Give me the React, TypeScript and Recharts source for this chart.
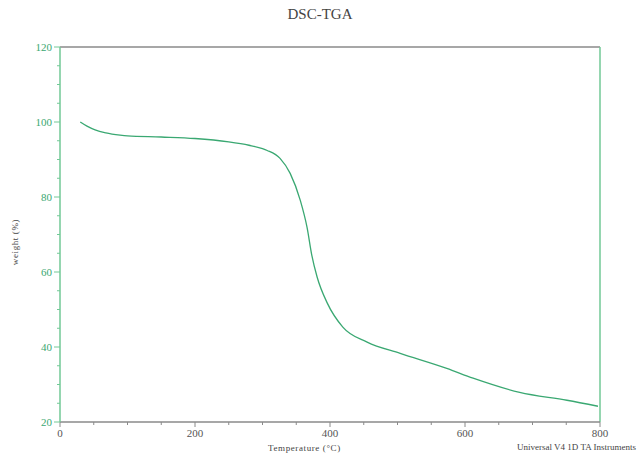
import React from "react";
import { LineChart, Line, XAxis, YAxis, ReferenceLine } from "recharts";

const temperature = [30, 40, 52, 68, 89, 100, 150, 200, 250, 280, 300, 307, 326, 341, 356, 366, 373, 381, 396, 419, 455, 504, 573, 612, 681, 751, 797];
const weight = [100, 98.9, 97.9, 97.1, 96.5, 96.3, 96.0, 95.6, 94.7, 93.8, 92.9, 92.4, 90.3, 86.3, 79.1, 71.9, 64.5, 58.6, 51.7, 45.3, 41.3, 38.3, 34.3, 31.7, 27.9, 25.8, 24.2];
const xMajorTicks = [0, 200, 400, 600, 800];
const xAllTicks = [0, 50, 100, 150, 200, 250, 300, 350, 400, 450, 500, 550, 600, 650, 700, 750, 800];
const yMajorTicks = [20, 40, 60, 80, 100, 120];
const yAllTicks = [20, 25, 30, 35, 40, 45, 50, 55, 60, 65, 70, 75, 80, 85, 90, 95, 100, 105, 110, 115, 120];

const data = temperature.map((t, i) => ({ t, w: weight[i] }));

const GREEN = "#3aa872";
const AXIS_GREEN = "#72c996";
const GRAY = "#8a8a8a";
const TEXT = "#444";
const SERIF = "'Liberation Serif', 'DejaVu Serif', serif";
const TICK_SIZE = 6;
const TICK_MARGIN = 2;

function XTick(props: any) {
  const { x, y, payload } = props;
  const v = payload.value;
  const major = xMajorTicks.includes(v);
  const axisY = y - TICK_SIZE - TICK_MARGIN;
  const len = major ? 5 : 3;
  return (
    <g>
      <line x1={x} x2={x} y1={axisY} y2={axisY + len} stroke={GRAY} strokeWidth={1} />
      {major && (
        <text x={x} y={axisY + 7} dy="0.71em" textAnchor="middle" fill="#555" fontSize={11} fontFamily={SERIF}>
          {v}
        </text>
      )}
    </g>
  );
}

function YTick(props: any) {
  const { x, y, payload } = props;
  const v = payload.value;
  const major = yMajorTicks.includes(v);
  const axisX = x + TICK_SIZE + TICK_MARGIN;
  const len = major ? 6 : 3;
  return (
    <g>
      <line x1={axisX - len} x2={axisX} y1={y} y2={y} stroke={AXIS_GREEN} strokeWidth={1} />
      {major && (
        <text x={axisX - 8} y={y} dy="0.355em" textAnchor="end" fill={GREEN} fontSize={11} fontFamily={SERIF}>
          {v}
        </text>
      )}
    </g>
  );
}

export default function App() {
  return (
    <div style={{ position: "absolute", left: 0, top: 0, width: 640, height: 455, background: "#fff", overflow: "hidden" }}>
      <LineChart width={640} height={455} data={data} margin={{ top: 47, right: 40, left: 0, bottom: 0 }}>
        <XAxis
          dataKey="t"
          type="number"
          domain={[0, 800]}
          ticks={xAllTicks}
          interval={0}
          tickSize={TICK_SIZE}
          tickMargin={TICK_MARGIN}
          tickLine={false}
          axisLine={{ stroke: GRAY, strokeWidth: 1.5 }}
          tick={<XTick />}
          height={33}
        />
        <YAxis
          type="number"
          domain={[20, 120]}
          ticks={yAllTicks}
          interval={0}
          tickSize={TICK_SIZE}
          tickMargin={TICK_MARGIN}
          tickLine={false}
          axisLine={{ stroke: AXIS_GREEN, strokeWidth: 1.5 }}
          tick={<YTick />}
          width={60}
        />
        <ReferenceLine y={120} stroke={GRAY} strokeWidth={1.5} />
        <ReferenceLine x={800} stroke={AXIS_GREEN} strokeWidth={1.5} />
        <Line
          type="monotone"
          dataKey="w"
          stroke={GREEN}
          strokeWidth={1.3}
          dot={false}
          isAnimationActive={false}
        />
      </LineChart>
      <div style={{ position: "absolute", left: 0, width: 640, top: 6, textAlign: "center", fontFamily: SERIF, fontSize: 15, color: TEXT }}>
        DSC-TGA
      </div>
      <div style={{ position: "absolute", left: 268, top: 443, fontFamily: SERIF, fontSize: 9, color: TEXT, whiteSpace: "nowrap", letterSpacing: 0.6 }}>
        Temperature (°C)
      </div>
      <div style={{ position: "absolute", left: 517, top: 442, fontFamily: SERIF, fontSize: 9, color: TEXT, whiteSpace: "nowrap" }}>
        Universal V4 1D TA Instruments
      </div>
      <div style={{ position: "absolute", left: 15, top: 242, transform: "translate(-50%, -50%) rotate(-90deg)", fontFamily: SERIF, fontSize: 9, color: TEXT, whiteSpace: "nowrap", letterSpacing: 0.6 }}>
        weight (%)
      </div>
    </div>
  );
}
